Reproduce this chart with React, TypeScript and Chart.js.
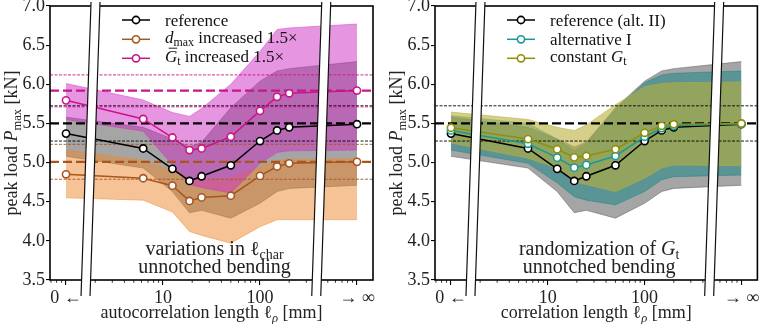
import React, { useEffect, useRef } from 'react';
import { Chart, registerables } from 'chart.js';
Chart.register(...registerables);

const FONT = "'Liberation Serif', 'Times New Roman', serif";

// ---- x positions (0 and infinity are placed at fixed log positions) ----
const ZERO_AT = 1;
const INF_AT = 1000;
const corrLengths = [6.25, 12.5, 18.75, 25, 50, 100, 150, 200];
const xPositions = [ZERO_AT, ...corrLengths, INF_AT];
const X_MIN = Math.pow(10, -0.165);
const X_MAX = Math.pow(10, 3.165);
const xTickValues = [ZERO_AT, 10, 100, INF_AT];
const xTickLabels = ['0 ←', '10', '100', '→ ∞'];
const Y_MIN = 3.5;
const Y_MAX = 7.0;
const Y_STEP = 0.5;

// ---- reference (both panels) ----
const refMean = [5.37, 5.18, 4.92, 4.765, 4.825, 4.965, 5.275, 5.41, 5.45, 5.49];
const refUpper = [5.58, 5.45, 5.3, 5.2, 5.26, 5.7, 6.04, 6.17, 6.2, 6.29];
const refLower = [5.08, 4.93, 4.63, 4.36, 4.39, 4.29, 4.48, 4.63, 4.67, 4.71];

// ---- left panel: d_max increased ----
const dmaxMean = [4.85, 4.8, 4.705, 4.51, 4.555, 4.577, 4.83, 4.95, 4.99, 5.01];
const dmaxUpper = [5.16, 5.03, 4.9, 4.75, 4.78, 4.8, 4.95, 5.03, 5.04, 5.05];
const dmaxLower = [4.55, 4.52, 4.37, 4.12, 4.07, 3.97, 4.18, 4.27, 4.27, 4.27];

// ---- left panel: G_t increased ----
const gtMean = [5.795, 5.557, 5.32, 5.16, 5.18, 5.33, 5.66, 5.84, 5.885, 5.92];
const gtUpper = [6.01, 5.8, 5.64, 5.59, 5.69, 6.0, 6.42, 6.7, 6.72, 6.77];
const gtLower = [5.55, 5.4, 4.97, 4.72, 4.68, 4.61, 4.99, 5.13, 5.15, 5.16];

// ---- right panel: alternative I ----
const alt1Mean = [5.41, 5.24, 5.063, 4.935, 4.97, 5.084, 5.33, 5.44, 5.47, 5.495];
const alt1Upper = [5.6, 5.5, 5.3, 5.15, 5.25, 5.68, 6.02, 6.12, 6.14, 6.17];
const alt1Lower = [5.16, 4.99, 4.74, 4.565, 4.52, 4.46, 4.63, 4.78, 4.82, 4.84];

// ---- right panel: constant G_t ----
const constMean = [5.445, 5.3, 5.17, 5.067, 5.084, 5.17, 5.38, 5.47, 5.49, 5.5];
const constUpper = [5.645, 5.55, 5.45, 5.41, 5.48, 5.74, 5.97, 6.01, 6.02, 6.03];
const constLower = [5.25, 5.055, 4.93, 4.756, 4.72, 4.63, 4.8, 4.93, 4.97, 4.96];

// ---- horizontal levels [mean, low, high] ----
const refLevel = [5.5, 5.275, 5.725];
const dmaxLevel = [5.01, 4.787, 5.233];
const gtLevel = [5.92, 5.712, 6.12];

// ---- break positions (in x data units) ----
const leftBreaks = [1.79, 428];
const rightBreaks = [1.79, 523];

type Seg = { t: string; it?: boolean; sub?: boolean; bar?: boolean };
interface Series { label: Seg[]; color: string; band: string; mean: number[]; upper: number[]; lower: number[] }
interface Level { v: number[]; color: string }
interface PanelCfg { series: Series[]; levels: Level[]; xTitle: Seg[]; note: Seg[][]; breaks: number[]; padRight: number }

const C_BLACK = '#000000';
const C_ORANGE = '#a8561f';
const C_MAGENTA = '#c8168c';
const C_TEAL = '#17999a';
const C_OLIVE = '#8f8f0a';

const leftPanel: PanelCfg = {
  series: [
    { label: [{ t: 'reference' }], color: C_BLACK, band: 'rgba(75,75,75,0.5)', mean: refMean, upper: refUpper, lower: refLower },
    { label: [{ t: 'd', it: true }, { t: 'max', sub: true }, { t: ' increased 1.5×' }], color: C_ORANGE, band: 'rgba(238,135,45,0.5)', mean: dmaxMean, upper: dmaxUpper, lower: dmaxLower },
    { label: [{ t: 'G', it: true, bar: true }, { t: 't', sub: true }, { t: ' increased 1.5×' }], color: C_MAGENTA, band: 'rgba(205,45,195,0.5)', mean: gtMean, upper: gtUpper, lower: gtLower },
  ],
  levels: [
    { v: refLevel, color: C_BLACK },
    { v: dmaxLevel, color: C_ORANGE },
    { v: gtLevel, color: C_MAGENTA },
  ],
  xTitle: [{ t: 'autocorrelation length ' }, { t: 'ℓ' }, { t: 'ρ', it: true, sub: true }, { t: ' [mm]' }],
  note: [[{ t: 'variations in ' }, { t: 'ℓ' }, { t: 'char', sub: true }], [{ t: 'unnotched bending' }]],
  breaks: leftBreaks,
  padRight: 8,
};

const rightPanel: PanelCfg = {
  series: [
    { label: [{ t: 'reference (alt. II)' }], color: C_BLACK, band: 'rgba(75,75,75,0.5)', mean: refMean, upper: refUpper, lower: refLower },
    { label: [{ t: 'alternative I' }], color: C_TEAL, band: 'rgba(0,128,128,0.45)', mean: alt1Mean, upper: alt1Upper, lower: alt1Lower },
    { label: [{ t: 'constant ' }, { t: 'G', it: true }, { t: 't', sub: true }], color: C_OLIVE, band: 'rgba(185,175,60,0.6)', mean: constMean, upper: constUpper, lower: constLower },
  ],
  levels: [{ v: refLevel, color: C_BLACK }],
  xTitle: [{ t: 'correlation length ' }, { t: 'ℓ' }, { t: 'ρ', it: true, sub: true }, { t: ' [mm]' }],
  note: [[{ t: 'randomization of ' }, { t: 'G', it: true }, { t: 't', sub: true }], [{ t: 'unnotched bending' }]],
  breaks: rightBreaks,
  padRight: 5,
};

const yTitle: Seg[] = [{ t: 'peak load ' }, { t: 'P', it: true }, { t: 'max', sub: true }, { t: ' [kN]' }];

function segFont(s: Seg, size: number) {
  const sz = s.sub ? size * 0.7 : size;
  return `${s.it ? 'italic ' : ''}${sz}px ${FONT}`;
}
function richWidth(ctx: CanvasRenderingContext2D, segs: Seg[], size: number) {
  let w = 0;
  for (const s of segs) { ctx.font = segFont(s, size); w += ctx.measureText(s.t).width; }
  return w;
}
function drawRich(ctx: CanvasRenderingContext2D, segs: Seg[], x: number, y: number, size: number, align: string, color: string) {
  const w = richWidth(ctx, segs, size);
  let cx = align === 'center' ? x - w / 2 : align === 'right' ? x - w : x;
  ctx.save();
  ctx.fillStyle = color;
  ctx.strokeStyle = color;
  ctx.textAlign = 'left';
  ctx.textBaseline = 'alphabetic';
  for (const s of segs) {
    ctx.font = segFont(s, size);
    const sw = ctx.measureText(s.t).width;
    const dy = s.sub ? size * 0.2 : 0;
    ctx.fillText(s.t, cx, y + dy);
    if (s.bar) {
      ctx.lineWidth = size * 0.055;
      ctx.beginPath();
      ctx.moveTo(cx + sw * 0.3, y - size * 0.8);
      ctx.lineTo(cx + sw * 1.0, y - size * 0.8);
      ctx.stroke();
    }
    cx += sw;
  }
  ctx.restore();
}

const pts = (arr: number[]) => xPositions.map((x, j) => ({ x, y: arr[j] }));

function makePanel(canvas: HTMLCanvasElement, cfg: PanelCfg) {
  const datasets: any[] = [];
  cfg.series.forEach((s, i) => {
    datasets.push({ data: pts(s.upper), borderColor: s.band, backgroundColor: s.band, borderWidth: 0.9, pointRadius: 0, fill: '+1', order: 300 - i });
    datasets.push({ data: pts(s.lower), borderColor: s.band, borderWidth: 0.9, pointRadius: 0, fill: false, order: 300 - i });
  });
  cfg.levels.forEach((L, k) => {
    const line = (y: number, w: number, dash: number[]) => ({
      data: [{ x: X_MIN, y }, { x: X_MAX, y }], borderColor: L.color, borderWidth: w, borderDash: dash,
      pointRadius: 0, fill: false, order: 200 - k,
    });
    datasets.push(line(L.v[1], 0.9, [3, 1.5]), line(L.v[2], 0.9, [3, 1.5]), line(L.v[0], 2.3, [9, 4]));
  });
  cfg.series.forEach((s, i) => {
    datasets.push({
      data: pts(s.mean), borderColor: s.color, borderWidth: 1.5, pointRadius: 3.6, pointBorderWidth: 1.6,
      pointBackgroundColor: '#ffffff', pointBorderColor: s.color, fill: false, order: 100 - i,
    });
  });

  const deco = {
    id: 'deco',
    afterDraw(chart: any) {
      const { ctx, chartArea: a, scales } = chart;
      const xs = scales.x;
      ctx.save();
      // minor x ticks
      ctx.strokeStyle = '#000';
      ctx.lineWidth = 0.8;
      for (const dec of [0.1, 1, 10, 100, 1000]) {
        for (let k = 2; k <= 9; k++) {
          const v = k * dec;
          if (v <= X_MIN || v >= X_MAX) continue;
          const px = xs.getPixelForValue(v);
          ctx.beginPath();
          ctx.moveTo(px, a.bottom);
          ctx.lineTo(px, a.bottom + 2.8);
          ctx.stroke();
        }
      }
      // frame
      ctx.lineWidth = 1.6;
      ctx.strokeRect(a.left, a.top, a.right - a.left, a.bottom - a.top);
      // axis breaks
      const yT = a.top - 4;
      const yB = a.bottom + 16;
      for (const bv of cfg.breaks) {
        const px = xs.getPixelForValue(bv);
        const g = 4.5;
        const sl = 5;
        ctx.fillStyle = '#fff';
        ctx.beginPath();
        ctx.moveTo(px + sl - g, yT);
        ctx.lineTo(px + sl + g, yT);
        ctx.lineTo(px - sl + g, yB);
        ctx.lineTo(px - sl - g, yB);
        ctx.closePath();
        ctx.fill();
        ctx.strokeStyle = '#111';
        ctx.lineWidth = 1.2;
        ctx.beginPath();
        ctx.moveTo(px + sl - g, yT); ctx.lineTo(px - sl - g, yB);
        ctx.moveTo(px + sl + g, yT); ctx.lineTo(px - sl + g, yB);
        ctx.stroke();
      }
      // legend
      const rows = [14, 33.3, 52.3];
      cfg.series.forEach((s, i) => {
        const cy = a.top + rows[i];
        const x0 = a.left + 72;
        ctx.strokeStyle = s.color;
        ctx.lineWidth = 1.5;
        ctx.beginPath(); ctx.moveTo(x0, cy); ctx.lineTo(x0 + 28, cy); ctx.stroke();
        ctx.fillStyle = '#fff';
        ctx.lineWidth = 1.6;
        ctx.beginPath(); ctx.arc(x0 + 14, cy, 3.6, 0, Math.PI * 2); ctx.fill(); ctx.stroke();
        const hasSub = s.label.some((g) => g.sub);
        drawRich(ctx, s.label, a.left + 115, cy + (hasSub ? 3.5 : 6), 17, 'left', '#111');
      });
      // note
      const nx = (a.left + a.right) / 2 + 3;
      drawRich(ctx, cfg.note[0], nx, a.bottom - 25, 20, 'center', '#222');
      drawRich(ctx, cfg.note[1], nx, a.bottom - 7, 20, 'center', '#222');
      // x title
      drawRich(ctx, cfg.xTitle, (a.left + a.right) / 2, 318, 18, 'center', '#222');
      // y title
      ctx.save();
      ctx.translate(a.left - 33, (a.top + a.bottom) / 2);
      ctx.rotate(-Math.PI / 2);
      drawRich(ctx, yTitle, 0, 0, 18, 'center', '#222');
      ctx.restore();
      ctx.restore();
    },
  };

  return new Chart(canvas, {
    type: 'line',
    data: { datasets },
    plugins: [deco],
    options: {
      animation: false,
      responsive: false,
      maintainAspectRatio: false,
      events: [],
      layout: { padding: { top: 6, right: cfg.padRight, left: 0, bottom: 0 } },
      plugins: { legend: { display: false }, tooltip: { enabled: false }, title: { display: false } },
      scales: {
        x: {
          type: 'logarithmic',
          bounds: 'data',
          min: X_MIN,
          max: X_MAX,
          afterBuildTicks: (s: any) => { s.ticks = xTickValues.map((v) => ({ value: v })); },
          afterFit: (s: any) => { s.height = 44; s.paddingLeft = 0; s.paddingRight = 0; },
          ticks: {
            autoSkip: false, maxRotation: 0, minRotation: 0, padding: 2, color: '#222',
            font: { family: FONT, size: 18 },
            callback: (_v: any, i: number) => xTickLabels[i],
          },
          grid: { display: true, drawOnChartArea: false, drawTicks: true, tickLength: 5, color: '#000', lineWidth: 1.1 },
          border: { display: false },
        },
        y: {
          type: 'linear',
          bounds: 'data',
          min: Y_MIN,
          max: Y_MAX,
          afterFit: (s: any) => { s.width = 50; s.paddingTop = 0; s.paddingBottom = 0; },
          ticks: {
            stepSize: Y_STEP, padding: 1, color: '#222',
            font: { family: FONT, size: 18 },
            callback: (v: any) => Number(v).toFixed(1),
          },
          grid: { display: true, drawOnChartArea: false, drawTicks: true, tickLength: 4, color: '#000', lineWidth: 1.1 },
          border: { display: false },
        },
      },
    } as any,
  });
}

export default function App() {
  const leftRef = useRef<HTMLCanvasElement>(null);
  const rightRef = useRef<HTMLCanvasElement>(null);
  useEffect(() => {
    const c1 = makePanel(leftRef.current!, leftPanel);
    const c2 = makePanel(rightRef.current!, rightPanel);
    return () => { c1.destroy(); c2.destroy(); };
  }, []);
  return (
    <div style={{ position: 'absolute', left: 0, top: 0, width: 763, height: 324, background: '#fff' }}>
      <canvas ref={leftRef} width={381} height={324} style={{ position: 'absolute', left: 0, top: 0, width: 381, height: 324 }} />
      <canvas ref={rightRef} width={378} height={324} style={{ position: 'absolute', left: 385, top: 0, width: 378, height: 324 }} />
    </div>
  );
}
